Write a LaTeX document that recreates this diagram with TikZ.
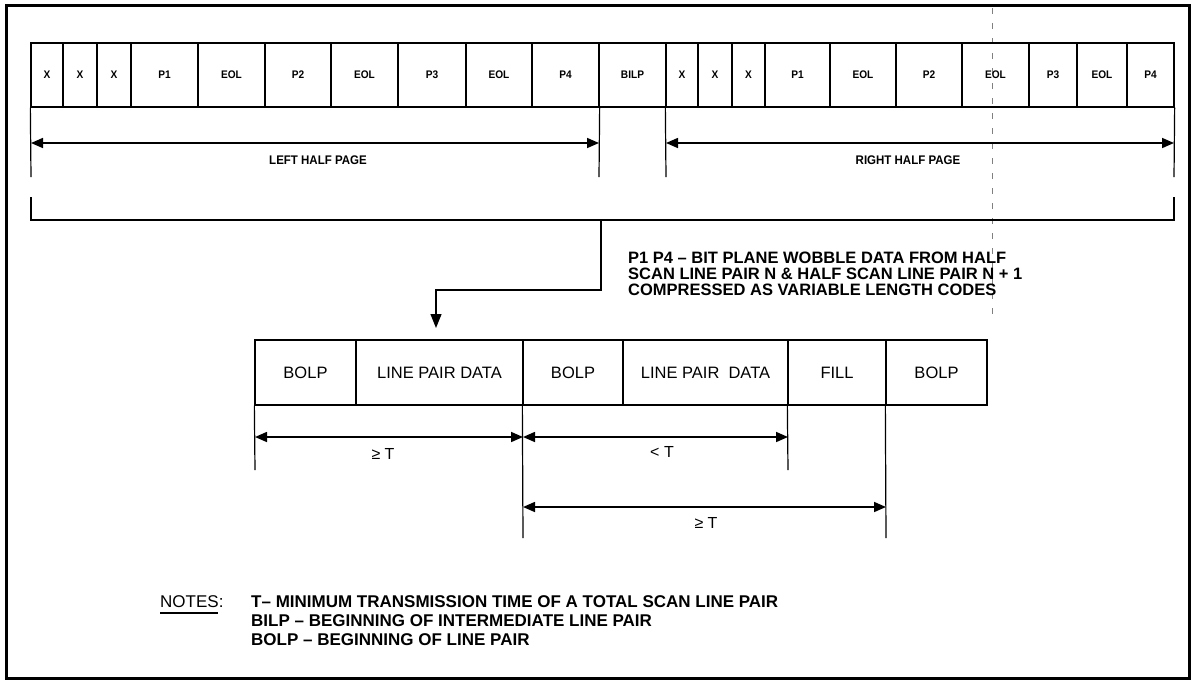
\documentclass[tikz,border=0pt]{standalone}
\usepackage{fontspec}
\setmainfont{Liberation Sans}
\newfontfamily\condfont{Liberation Sans}[FakeStretch=0.92]
\usetikzlibrary{arrows.meta}
\tikzset{
  cellbox/.style={draw, line width=1.3pt, inner sep=0pt, minimum height=64pt,
    font=\condfont\bfseries\fontsize{11}{13}\selectfont},
  lowbox/.style={draw, line width=1.3pt, inner sep=0pt, minimum height=65pt,
    font=\fontsize{16.5}{19}\selectfont},
  guide/.style={line width=1.2pt},
  dim/.style={line width=1.6pt, {Triangle[length=12pt,width=10pt]}-{Triangle[length=12pt,width=10pt]}},
  dimlabel/.style={font=\condfont\bfseries\fontsize{12.5}{14}\selectfont},
  lowlabel/.style={font=\fontsize{16}{18}\selectfont},
  notetext/.style={font=\bfseries\fontsize{17}{19}\selectfont, anchor=west, inner sep=0pt},
}
\begin{document}
\begin{tikzpicture}[x=1pt,y=-1pt]
\useasboundingbox (0,0) rectangle (1194,681);
\fill[white] (0,0) rectangle (1194,681);
% outer frame
\draw[line width=3pt] (6,5) rectangle (1189,678);
% faint dashed scan line
\draw[line width=0.6pt, gray, dash pattern=on 6pt off 9pt] (992,8) -- (992,322);
% top row
\foreach \a/\b/\t/\n in {31/63/X/t1, 63/97/X/t2, 97/131/X/t3, 131/198/P1/t4, 198/265/EOL/t5,
  265/331/P2/t6, 331/398/EOL/t7, 398/466/P3/t8, 466/532/EOL/t9, 532/599/P4/t10,
  599/666/BILP/t11, 666/698/X/t12, 698/732/X/t13, 732/765/X/t14, 765/830/P1/t15,
  830/896/EOL/t16, 896/962/P2/t17, 962/1029/EOL/t18, 1029/1077/P3/t19, 1077/1127/EOL/t20,
  1127/1174/P4/t21}
  \node[cellbox, minimum width={\b-\a}] (\n) at ({(\a+\b)/2},75) {\t};
% half page extents
\coordinate (lhA) at (31,177); \coordinate (lhB) at (599,177);
\coordinate (rhA) at (666,177); \coordinate (rhB) at (1174,177);
\draw[guide] (t1.south west) -- (lhA);
\draw[guide] (t10.south east) -- (lhB);
\draw[guide] (t12.south west) -- (rhA);
\draw[guide] (t21.south east) -- (rhB);
\coordinate (la1) at (31,143); \coordinate (la2) at (599,143);
\coordinate (ra1) at (666,143); \coordinate (ra2) at (1174,143);
\draw[dim] (la1) -- (la2);
\draw[dim] (ra1) -- (ra2);
\node[dimlabel] (lhp) at (318,160) {LEFT HALF PAGE};
\node[dimlabel] (rhp) at (908,160) {RIGHT HALF PAGE};
% bracket
\coordinate (bk1) at (31,197); \coordinate (bk2) at (31,220);
\coordinate (bk3) at (1174,220); \coordinate (bk4) at (1174,197);
\draw[guide] (bk1) -- (bk2) -- (bk3) -- (bk4);
% lower row
\foreach \a/\b/\t/\n in {255/356/BOLP/b1, 356/523/LINE PAIR DATA/b2, 523/623/BOLP/b3,
  623/788/LINE PAIR\ \ DATA/b4, 788/886/FILL/b5, 886/987/BOLP/b6}
  \node[lowbox, minimum width={\b-\a}] (\n) at ({(\a+\b)/2},372.5) {\t};
% connector from bracket to lower row
\coordinate (cn1) at (601,220); \coordinate (cn2) at (601,290); \coordinate (cn3) at (436,290);
\coordinate (cn4) at (436,328);
\draw[guide, -{Triangle[length=14pt,width=11pt]}] (cn1) -- (cn2) -- (cn3) -- (cn4);
% explanatory text
\node[notetext, align=left, font=\bfseries\fontsize{16.5}{16}\selectfont] (expl) at (628,274)
  {P1 P4 – BIT PLANE WOBBLE DATA FROM HALF\\
   SCAN LINE PAIR N \& HALF SCAN LINE PAIR N + 1\\
   COMPRESSED AS VARIABLE LENGTH CODES};
% lower dimension guides
\coordinate (g1) at (255,470); \coordinate (g2) at (523,538);
\coordinate (g3) at (788,470); \coordinate (g4) at (886,538);
\draw[guide] (b1.south west) -- (g1);
\draw[guide] (b3.south west) -- (g2);
\draw[guide] (b5.south west) -- (g3);
\draw[guide] (b6.south west) -- (g4);
\coordinate (d1a) at (255,437); \coordinate (d1b) at (523,437);
\coordinate (d2a) at (523,437); \coordinate (d2b) at (788,437);
\coordinate (d3a) at (523,507); \coordinate (d3b) at (886,507);
\draw[dim] (d1a) -- (d1b);
\draw[dim] (d2a) -- (d2b);
\draw[dim] (d3a) -- (d3b);
\node[lowlabel] (l1) at (383,454) {≥ T};
\node[lowlabel] (l2) at (662,452) {< T};
\node[lowlabel] (l3) at (706,523) {≥ T};
% notes
\node[notetext, font=\fontsize{17}{19}\selectfont] (notes) at (160,602) {NOTES:};
\draw[line width=1.5pt] (notes.south west) ++(0,5) -- ++(58,0);
\node[notetext] (n1) at (251,602) {T– MINIMUM TRANSMISSION TIME OF A TOTAL SCAN LINE PAIR};
\node[notetext] (n2) at (251,621) {BILP – BEGINNING OF INTERMEDIATE LINE PAIR};
\node[notetext] (n3) at (251,640) {BOLP – BEGINNING OF LINE PAIR};
\end{tikzpicture}
\end{document}
